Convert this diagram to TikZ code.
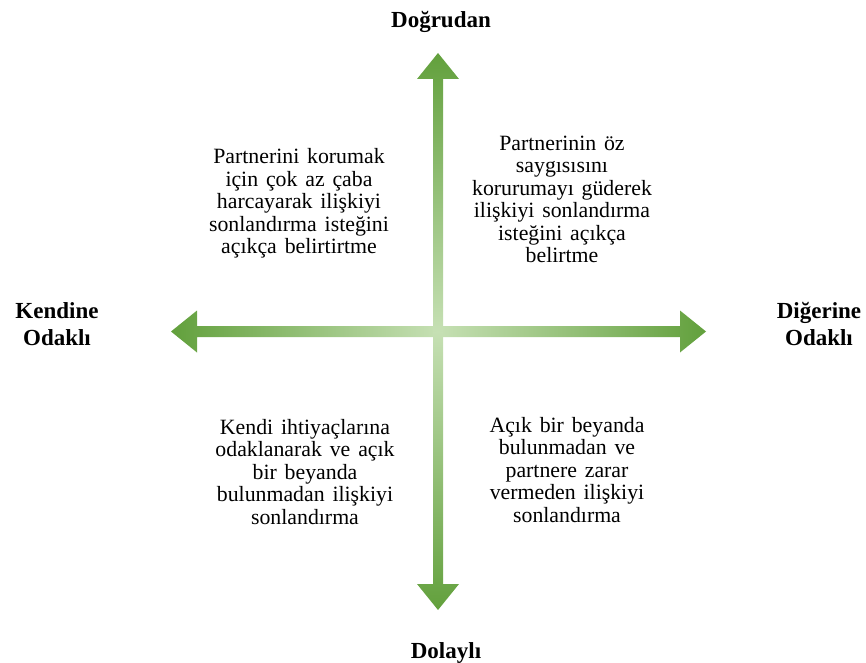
\documentclass[tikz,border=0pt]{standalone}
\usepackage{fontspec}
\setmainfont{Liberation Serif}
\definecolor{gdark}{RGB}{98,160,60}
\definecolor{glight}{RGB}{198,224,180}
\newcommand{\bodyfont}{\fontsize{21.8bp}{22.5bp}\selectfont\spaceskip=0.36em\relax}
\begin{document}
\begin{tikzpicture}[x=1bp,y=-1bp,
  body/.style={font=\bodyfont, align=center, inner sep=0pt},
  axislabel/.style={font=\fontsize{23bp}{27bp}\selectfont\bfseries, align=center, inner sep=0pt}]
\useasboundingbox (0,0) rectangle (866,663);
\coordinate (c) at (438,331.5);
% horizontal arms
\shade[left color=gdark, right color=glight]
  (438,326) -- (197,326) -- (197,310.5) -- (171,331.5) -- (197,352.5) -- (197,337) -- (438,337) -- cycle;
\shade[left color=glight, right color=gdark]
  (438,326) -- (680,326) -- (680,310.5) -- (706,331.5) -- (680,352.5) -- (680,337) -- (438,337) -- cycle;
% vertical arms
\shade[top color=gdark, bottom color=glight]
  (433,331.5) -- (433,79) -- (417,79) -- (438,53) -- (459,79) -- (443,79) -- (443,331.5) -- cycle;
\shade[top color=glight, bottom color=gdark]
  (433,331.5) -- (433,584) -- (417,584) -- (438,610) -- (459,584) -- (443,584) -- (443,331.5) -- cycle;
% axis labels
\node[axislabel] (top) at (441,21.5) {Doğrudan};
\node[axislabel] (bottom) at (446,652.7) {Dolaylı};
\node[axislabel] (left) at (57,323.7) {Kendine\\Odaklı};
\node[axislabel] (right) at (819,323.7) {Diğerine\\Odaklı};
% quadrant texts
\node[body] (tl) at (299,203.5) {Partnerini korumak\\için çok az çaba\\harcayarak ilişkiyi\\sonlandırma isteğini\\açıkça belirtirtme};
\node[body] (tr) at (562,199.5) {Partnerinin öz\\saygısısını\\korurumayı güderek\\ilişkiyi sonlandırma\\isteğini açıkça\\belirtme};
\node[body] (bl) at (305,472) {Kendi ihtiyaçlarına\\odaklanarak ve açık\\bir beyanda\\bulunmadan ilişkiyi\\sonlandırma};
\node[body] (br) at (567,470) {Açık bir beyanda\\bulunmadan ve\\partnere zarar\\vermeden ilişkiyi\\sonlandırma};
\end{tikzpicture}
\end{document}
